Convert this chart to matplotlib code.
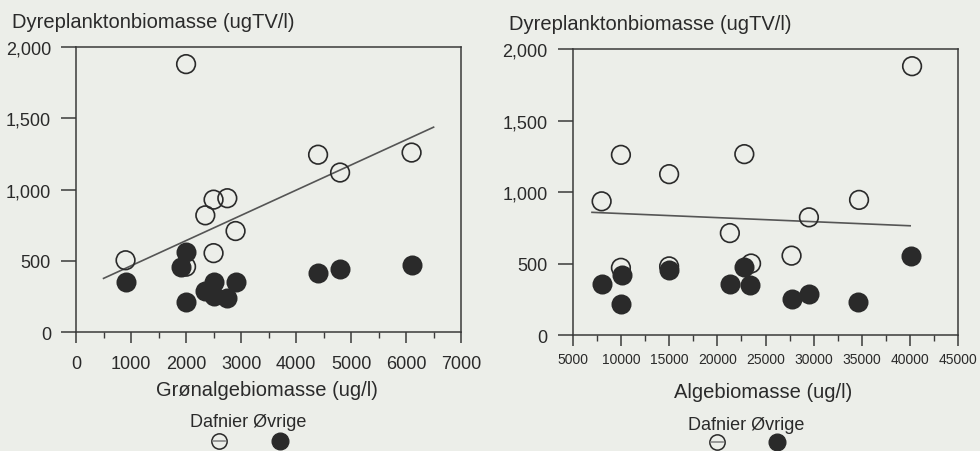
import numpy as np
import matplotlib
matplotlib.use("Agg")
import matplotlib.pyplot as plt
from matplotlib.ticker import MultipleLocator, FuncFormatter
from matplotlib.lines import Line2D

plt.rcParams['font.family'] = ['Liberation Sans', 'DejaVu Sans']

# Venstre figur: grønalgebiomasse
gron_daf_x = [2000, 900, 2000, 2350, 2500, 2750, 2900, 2500, 4400, 4800, 6100]
gron_daf_y = [1880, 505, 460, 820, 930, 940, 710, 555, 1245, 1120, 1260]
gron_ovr_x = [900, 2000, 1900, 2000, 2350, 2500, 2500, 2750, 2900, 4400, 4800, 6100]
gron_ovr_y = [355, 565, 460, 215, 290, 355, 255, 240, 355, 415, 447, 470]
gron_trend_x = [500, 6500]
gron_trend_y = [378, 1438]

# Højre figur: algebiomasse
alge_daf_x = [8000, 10000, 10000, 15000, 15000, 22800, 21300, 23500, 27700, 29500, 34700, 40200]
alge_daf_y = [935, 1260, 470, 1125, 480, 1265, 713, 500, 555, 823, 945, 1880]
alge_ovr_x = [8000, 10100, 10000, 15000, 21300, 22800, 23400, 27700, 29500, 34600, 40100]
alge_ovr_y = [360, 420, 215, 457, 357, 478, 350, 250, 287, 233, 555]
alge_trend_x = [7000, 40000]
alge_trend_y = [858, 764]

bg = '#eceee9'
ink = '#2a2a2a'
line_c = '#555555'

fig = plt.figure(figsize=(9.8, 4.52), dpi=100, facecolor=bg)

def style_axes(ax, xmaj, xmin, xlim, xfs, xpad):
    ax.set_facecolor(bg)
    ax.set_xlim(*xlim)
    ax.set_ylim(0, 2000)
    ax.xaxis.set_major_locator(MultipleLocator(xmaj))
    ax.xaxis.set_minor_locator(MultipleLocator(xmin))
    ax.yaxis.set_major_locator(MultipleLocator(500))
    ax.yaxis.set_major_formatter(FuncFormatter(lambda v, p: f"{int(v):,}"))
    for s in ax.spines.values():
        s.set_color('#3a3a3a')
        s.set_linewidth(1.1)
    ax.tick_params(axis='x', which='major', direction='out', length=8, width=1.1,
                   color='#3a3a3a', labelsize=xfs, pad=xpad, labelcolor=ink)
    ax.tick_params(axis='x', which='minor', direction='out', length=4, width=1.0,
                   color='#3a3a3a')
    ax.tick_params(axis='y', which='major', direction='out', length=11, width=1.1,
                   color='#3a3a3a', labelsize=13, pad=7, labelcolor=ink)

def draw(ax, dx, dy, ox, oy, tx, ty):
    ax.plot(tx, ty, color=line_c, lw=1.2, zorder=2)
    ax.scatter(dx, dy, s=180, facecolors='none', edgecolors=ink, linewidths=1.2, zorder=3)
    ax.scatter(ox, oy, s=175, facecolors=ink, edgecolors=ink, linewidths=1.2, zorder=4)

ax1 = fig.add_axes([0.0776, 0.2626, 0.3929, 0.6312])
style_axes(ax1, 1000, 500, (0, 7000), 13, 8)
draw(ax1, gron_daf_x, gron_daf_y, gron_ovr_x, gron_ovr_y, gron_trend_x, gron_trend_y)

ax2 = fig.add_axes([0.5844, 0.2566, 0.3935, 0.6327])
style_axes(ax2, 5000, 2500, (5000, 45000), 10, 4.5)
draw(ax2, alge_daf_x, alge_daf_y, alge_ovr_x, alge_ovr_y, alge_trend_x, alge_trend_y)

def px(x, y):
    return x / 980, (452 - y) / 452

# y-akse titler
fig.text(*px(12, 23), 'Dyreplanktonbiomasse (ugTV/l)', fontsize=14.5, color=ink,
         ha='left', va='center')
fig.text(*px(509, 24), 'Dyreplanktonbiomasse (ugTV/l)', fontsize=14.5, color=ink,
         ha='left', va='center')

# x-akse titler
fig.text(*px(267, 391), 'Grønalgebiomasse (ug/l)', fontsize=14.5, color=ink,
         ha='center', va='center')
fig.text(*px(763, 393), 'Algebiomasse (ug/l)', fontsize=14.5, color=ink,
         ha='center', va='center')

# forklaringer
for tx, ty, cx1, cx2, cy in [(248, 423, 219, 280, 442), (746, 426, 717, 777, 443)]:
    fig.text(*px(tx, ty), 'Dafnier Øvrige', fontsize=13, color=ink,
             ha='center', va='center')
    x1, y1 = px(cx1, cy)
    x2, y2 = px(cx2, cy)
    fig.add_artist(Line2D([x1], [y1], marker='o', ms=11, mfc='none', mec=ink, mew=1.1,
                          transform=fig.transFigure))
    fig.add_artist(Line2D([x1 - 6 / 980, x1 + 6 / 980], [y1, y1], color='#888888', lw=1.2,
                          transform=fig.transFigure))
    fig.add_artist(Line2D([x2], [y2], marker='o', ms=12, mfc=ink, mec=ink,
                          transform=fig.transFigure))

fig.savefig('out.png', dpi=100, facecolor=bg)
